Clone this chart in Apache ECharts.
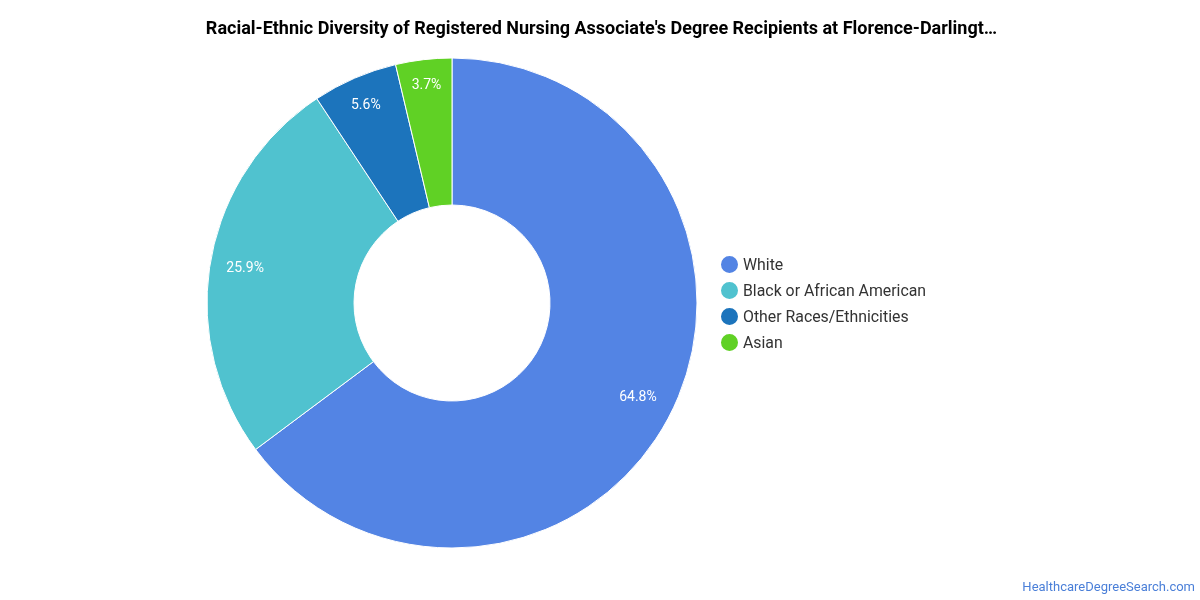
<!DOCTYPE html>
<html style="height: 100%">
<head>
<meta charset="utf-8">
</head>
<body style="height: 100%; margin: 0; background: #fff">
<div id="container" style="width: 1200px; height: 600px"></div>
<script src="https://cdn.jsdelivr.net/npm/echarts@6/dist/echarts.min.js"></script>
<script>
var titleText = "Racial-Ethnic Diversity of Registered Nursing Associate's Degree Recipients at Florence-Darlingt\u2026";
var categories = ['White', 'Black or African American', 'Other Races/Ethnicities', 'Asian'];
var values = [64.8, 25.9, 5.6, 3.7];
var colors = ['#5384E4', '#50C2CF', '#1C74BC', '#60D125'];
var siteLabel = 'HealthcareDegreeSearch.com';

// pie geometry, labels sit further out than the ring's middle
var cx = 452, cy = 303;
var labelRadii = [208, 210, 217, 220];

var myChart = echarts.init(document.getElementById('container'), null, { renderer: 'canvas' });
var option = {
    animation: false,
    textStyle: { fontFamily: 'Roboto' },
    title: [{
        text: titleText,
        left: 596.5,
        top: 15,
        textAlign: 'center',
        textStyle: { fontFamily: 'Roboto', fontSize: 18, fontWeight: 'bold', color: '#000' }
    }, {
        text: siteLabel,
        right: 0,
        bottom: 1,
        textStyle: { fontFamily: 'Roboto', fontSize: 13, fontWeight: 'normal', color: '#4A7FD8' }
    }],
    legend: {
        orient: 'vertical',
        left: 714,
        top: 249,
        itemWidth: 19,
        itemHeight: 20,
        itemGap: 5,
        icon: 'circle',
        data: categories,
        formatter: '{t|{name}}',
        textStyle: {
            padding: [0, 0, 0, -1],
            rich: {
                // top padding nudges the text level with the icon
                t: { fontFamily: 'Roboto', fontSize: 15.85, color: '#333', padding: [3, 0, 0, 0] }
            }
        }
    },
    series: [{
        type: 'pie',
        center: [cx, cy],
        radius: [98, 245],
        startAngle: 90,
        clockwise: true,
        avoidLabelOverlap: false,
        itemStyle: { borderColor: '#fff', borderWidth: 1 },
        label: {
            position: 'inside',
            formatter: function (p) { return p.value.toFixed(1) + '%'; },
            color: '#fff',
            fontFamily: 'Roboto',
            fontSize: 14
        },
        labelLine: { show: false },
        labelLayout: function (params) {
            // push each label outward along its slice's mid angle
            var r = params.labelRect;
            var dx = r.x + r.width / 2 - cx;
            var dy = r.y + r.height / 2 - cy;
            var k = labelRadii[params.dataIndex] / Math.sqrt(dx * dx + dy * dy);
            return { dx: dx * (k - 1), dy: dy * (k - 1) + 1.5 };
        },
        emphasis: { disabled: true },
        data: categories.map(function (name, i) {
            return { name: name, value: values[i], itemStyle: { color: colors[i] } };
        })
    }]
};
myChart.setOption(option);
</script>
</body>
</html>
